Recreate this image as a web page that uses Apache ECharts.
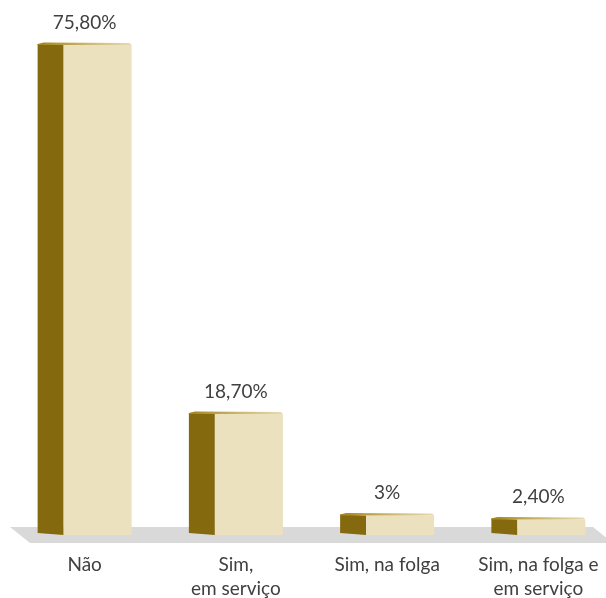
<!DOCTYPE html>
<html>
<head>
<meta charset="utf-8">
<script src="https://cdn.jsdelivr.net/npm/echarts@6/dist/echarts.min.js"></script>
<style>html,body{margin:0;padding:0;background:#fff}#c{width:606px;height:598px}</style>
</head>
<body>
<div id="c"></div>
<script>
const categories = ["Não", "Sim,\nem serviço", "Sim, na folga", "Sim, na folga e\nem serviço"];
const values = [75.8, 18.7, 3, 2.4];
const valueLabels = ["75,80%", "18,70%", "3%", "2,40%"];

const chart = echarts.init(document.getElementById('c'));
const FONT = 'Lato';

function renderBar(params, api) {
  const idx = api.value(0);
  const v = api.value(1);
  const top = api.coord([idx, v]);
  const base = api.coord([idx, 0]);
  const cx = top[0];
  const ty = top[1];
  const by = base[1];
  const xl = cx - 47, xm = cx - 21, xr = cx + 47;
  return {
    type: 'group',
    children: [
      { type: 'polygon', shape: { points: [[xl, ty - 1], [xm, ty], [xm, by], [xl, by - 2]] },
        style: { fill: '#85690f' } },
      { type: 'rect', shape: { x: xm, y: ty, width: xr - xm, height: by - ty },
        style: { fill: '#ebe1be' } },
      { type: 'polygon', shape: { points: [[xl, ty - 1], [xl + 6, ty - 2.5], [xr - 2, ty - 2], [xr, ty], [xm, ty], [xl, ty]] },
        style: { fill: new echarts.graphic.LinearGradient(0, 0, 1, 0, [
          { offset: 0, color: '#a38418' }, { offset: 0.5, color: '#c9b469' }, { offset: 1, color: '#e6dbb3' }]) } },
      { type: 'text', style: { x: cx, y: ty - 13, text: valueLabels[params.dataIndex],
        fill: '#404040', font: '19px ' + FONT, align: 'center', verticalAlign: 'bottom' } }
    ]
  };
}

chart.setOption({
  animation: false,
  graphic: [{
    type: 'polygon', z: -10,
    shape: { points: [[10, 527], [593, 527], [613, 543], [30, 543]] },
    style: { fill: '#d9d9d9' }
  }],
  grid: { left: 9, width: 605, top: 45, bottom: 63, containLabel: false, outerBoundsMode: 'none' },
  xAxis: {
    type: 'category', data: categories,
    axisLine: { show: false }, axisTick: { show: false },
    axisLabel: { color: '#404040', fontSize: 19, fontFamily: FONT, lineHeight: 24, margin: 18, interval: 0, hideOverlap: false }
  },
  yAxis: { type: 'value', min: 0, max: 75.8, show: false, splitLine: { show: false } },
  series: [{
    type: 'custom', z: 5,
    renderItem: renderBar,
    data: values.map((v, i) => [i, v])
  }]
});
</script>
</body>
</html>
